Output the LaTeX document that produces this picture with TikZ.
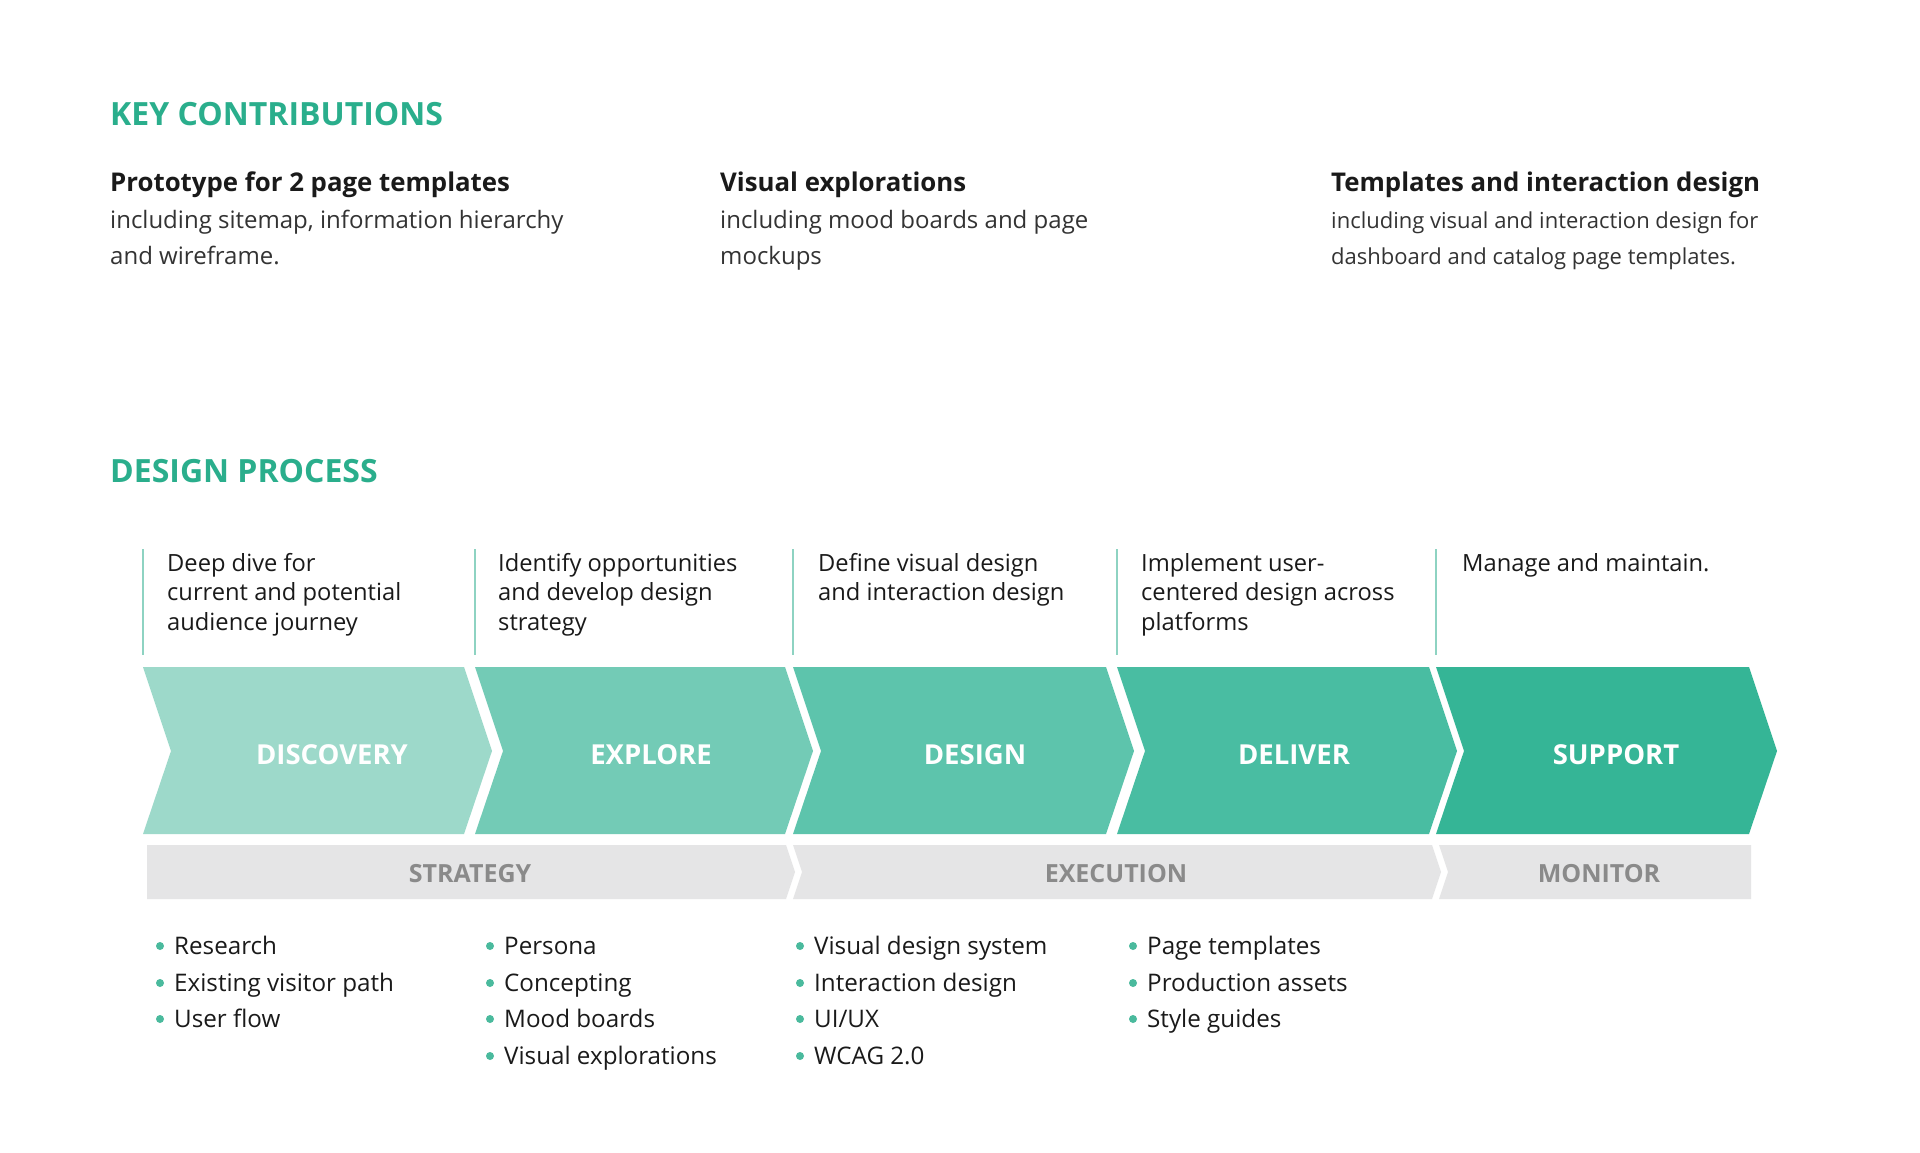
\documentclass[tikz,border=0pt]{standalone}
\usepackage{fontspec}
\setmainfont{Open Sans}
\definecolor{teal}{HTML}{2AAE8C}
\definecolor{cA}{HTML}{9DD9CA}
\definecolor{cB}{HTML}{73CBB6}
\definecolor{cC}{HTML}{5DC4AC}
\definecolor{cD}{HTML}{49BDA2}
\definecolor{cE}{HTML}{35B596}
\definecolor{vline}{HTML}{8ED3C2}
\definecolor{barg}{HTML}{E5E5E6}
\definecolor{bartxt}{HTML}{8A8A8A}
\definecolor{dark}{HTML}{1A1A1A}
\definecolor{body}{HTML}{333333}
\tikzset{
  txt/.style={anchor=base west, inner sep=0pt, text=body},
  head/.style={anchor=base west, inner sep=0pt, text=teal, font=\fontsize{32}{36}\selectfont\bfseries},
  sub/.style={anchor=base west, inner sep=0pt, text=dark, font=\fontsize{25.8}{30}\selectfont\bfseries},
  para/.style={txt, font=\fontsize{24}{30}\selectfont},
  parasm/.style={txt, font=\fontsize{22}{30}\selectfont},
  desc/.style={anchor=base west, inner sep=0pt, text=dark, font=\fontsize{23.7}{30}\selectfont},
  chevlbl/.style={anchor=base, inner sep=0pt, text=white, font=\fontsize{27.5}{30}\selectfont\bfseries},
  barlbl/.style={anchor=base, inner sep=0pt, text=bartxt, font=\fontsize{25}{30}\selectfont\bfseries},
  item/.style={anchor=base west, inner sep=0pt, text=dark, font=\fontsize{24.2}{30}\selectfont},
  vl/.style={draw=vline, line width=2pt},
  dot/.style={fill=teal!85!white},
}
\newcommand\chevshape[3]{% x0 x1 colour
  \fill[#3] (#1,667) -- (#2,667) -- ({#2+28},751) -- (#2,834) -- (#1,834) -- ({#1+28},751) -- cycle;}
\newcommand\bul[4]{% name x y text
  \fill[dot] ({#2-14},{#3-8}) circle (4);
  \node[item] (#1) at (#2,#3) {#4};}
\begin{document}
\begin{tikzpicture}[x=1pt,y=-1pt]
\useasboundingbox[fill=white] (0,0) rectangle (1920,1152);

% Key contributions
\node[head] (kc) at (110,125) {KEY CONTRIBUTIONS};
\node[sub] (k1h) at (110,191) {Prototype for 2 page templates};
\node[para] (k1a) at (110,228) {including sitemap, information hierarchy};
\node[para] (k1b) at (110,264) {and wireframe.};
\node[sub] (k2h) at (720,191) {Visual explorations};
\node[para] (k2a) at (720,228) {including mood boards and page};
\node[para] (k2b) at (720,264) {mockups};
\node[sub] (k3h) at (1331,191) {Templates and interaction design};
\node[parasm] (k3a) at (1331,228) {including visual and interaction design for};
\node[parasm] (k3b) at (1331,264) {dashboard and catalog page templates.};

% Design process
\node[head] (dp) at (110,482) {DESIGN PROCESS};

% vertical lines
\coordinate (v1t) at (143,549); \coordinate (v1b) at (143,655);
\coordinate (v2t) at (475,549); \coordinate (v2b) at (475,655);
\coordinate (v3t) at (793,549); \coordinate (v3b) at (793,655);
\coordinate (v4t) at (1117,549); \coordinate (v4b) at (1117,655);
\coordinate (v5t) at (1436,549); \coordinate (v5b) at (1436,655);
\draw[vl] (v1t) -- (v1b);
\draw[vl] (v2t) -- (v2b);
\draw[vl] (v3t) -- (v3b);
\draw[vl] (v4t) -- (v4b);
\draw[vl] (v5t) -- (v5b);

% descriptions
\node[desc] (d1a) at (167,571) {Deep dive for};
\node[desc] (d1b) at (167,600) {current and potential};
\node[desc] (d1c) at (167,630) {audience journey};
\node[desc] (d2a) at (498,571) {Identify opportunities};
\node[desc] (d2b) at (498,600) {and develop design};
\node[desc] (d2c) at (498,630) {strategy};
\node[desc] (d3a) at (818,571) {Define visual design};
\node[desc] (d3b) at (818,600) {and interaction design};
\node[desc] (d4a) at (1141,571) {Implement user-};
\node[desc] (d4b) at (1141,600) {centered design across};
\node[desc] (d4c) at (1141,630) {platforms};
\node[desc] (d5a) at (1462,571) {Manage and maintain.};

% chevrons
\chevshape{143}{464}{cA}
\chevshape{475}{785}{cB}
\chevshape{793}{1106}{cC}
\chevshape{1117}{1429}{cD}
\chevshape{1436}{1749}{cE}
\node[chevlbl] (c1) at (332,764) {DISCOVERY};
\node[chevlbl] (c2) at (651,764) {EXPLORE};
\node[chevlbl] (c3) at (975,764) {DESIGN};
\node[chevlbl] (c4) at (1294,764) {DELIVER};
\node[chevlbl] (c5) at (1616,764) {SUPPORT};

% grey phase bar
\fill[barg] (147,845) -- (786,845) -- (795,872) -- (786,899) -- (147,899) -- cycle;
\fill[barg] (793,845) -- (1432,845) -- (1441,872) -- (1432,899) -- (793,899) -- (802,872) -- cycle;
\fill[barg] (1439,845) -- (1751,845) -- (1751,899) -- (1439,899) -- (1448,872) -- cycle;
\node[barlbl] (p1) at (470,882) {STRATEGY};
\node[barlbl] (p2) at (1116,882) {EXECUTION};
\node[barlbl] (p3) at (1599,882) {MONITOR};

% bullet lists
\bul{b11}{174}{954}{Research}
\bul{b12}{174}{991}{Existing visitor path}
\bul{b13}{174}{1027}{User flow}
\bul{b21}{504}{954}{Persona}
\bul{b22}{504}{991}{Concepting}
\bul{b23}{504}{1027}{Mood boards}
\bul{b24}{504}{1064}{Visual explorations}
\bul{b31}{814}{954}{Visual design system}
\bul{b32}{814}{991}{Interaction design}
\bul{b33}{814}{1027}{UI/UX}
\bul{b34}{814}{1064}{WCAG 2.0}
\bul{b41}{1147}{954}{Page templates}
\bul{b42}{1147}{991}{Production assets}
\bul{b43}{1147}{1027}{Style guides}
\end{tikzpicture}
\end{document}
